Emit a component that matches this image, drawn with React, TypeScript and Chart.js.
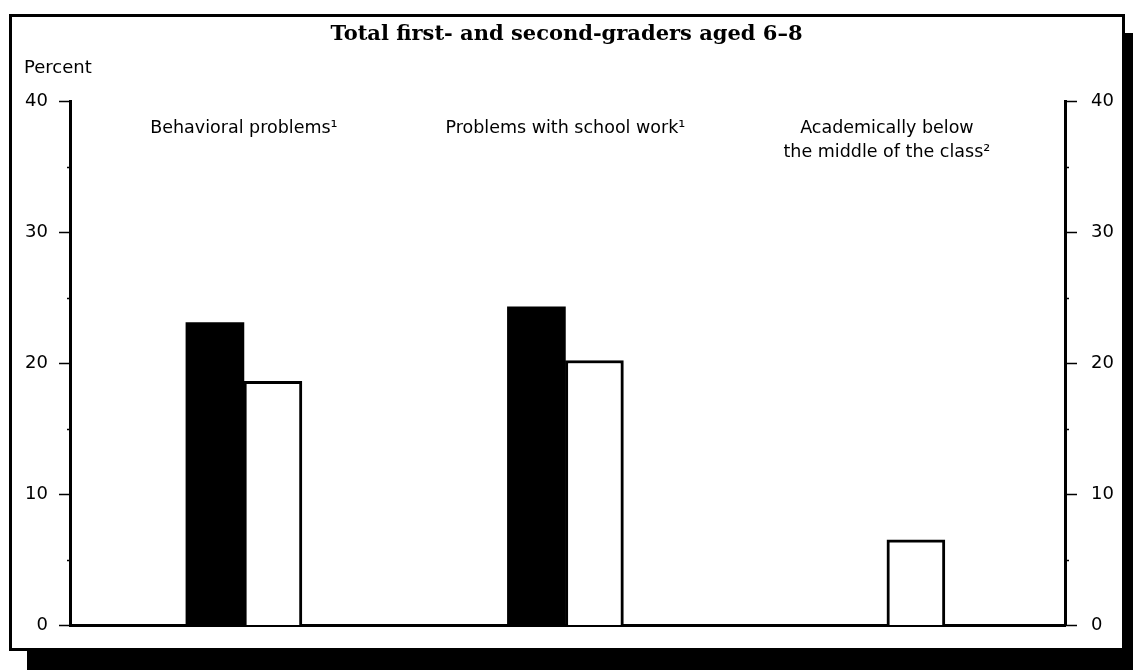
import React, { useEffect, useRef } from 'react';
import { Chart, registerables } from 'chart.js';

Chart.register(...registerables);

const TITLE = 'Total first- and second-graders aged 6–8';
const Y_AXIS_LABEL = 'Percent';
const CATEGORIES: string[][] = [
  ['Behavioral problems¹'],
  ['Problems with school work¹'],
  ['Academically below', 'the middle of the class²'],
];
const CATEGORY_POSITIONS = [0, 1, 2];
const SERIES_BLACK: (number | null)[] = [23.1, 24.3, null];
const SERIES_WHITE: (number | null)[] = [18.6, 20.2, 6.5];
const Y_TICKS_MAJOR = [0, 10, 20, 30, 40];
const Y_TICKS_MINOR = [5, 15, 25, 35];

const SANS = '"DejaVu Sans", "Liberation Sans", sans-serif';
const SERIF = '"DejaVu Serif", "Liberation Serif", serif';

const decorations = {
  id: 'decorations',
  afterDraw(chart: any) {
    const { ctx, chartArea, scales } = chart;
    const y = scales.y;
    const x = scales.x;
    ctx.save();
    ctx.strokeStyle = '#000';
    ctx.lineWidth = 1.5;
    const drawTick = (v: number, len: number) => {
      const py = Math.round(y.getPixelForValue(v)) + 0.5;
      ctx.beginPath();
      ctx.moveTo(chartArea.left - len, py);
      ctx.lineTo(chartArea.left, py);
      ctx.moveTo(chartArea.right, py);
      ctx.lineTo(chartArea.right + len + 1, py);
      ctx.stroke();
    };
    Y_TICKS_MAJOR.forEach((v) => drawTick(v, 11));
    Y_TICKS_MINOR.forEach((v) => drawTick(v, 3));

    ctx.fillStyle = '#000';
    ctx.font = `18px ${SANS}`;
    ctx.textAlign = 'left';
    ctx.textBaseline = 'alphabetic';
    ctx.fillText(Y_AXIS_LABEL, 24, 73);

    ctx.font = `17.5px ${SANS}`;
    ctx.textAlign = 'center';
    CATEGORIES.forEach((lines, i) => {
      const px = x.getPixelForValue(CATEGORY_POSITIONS[i]);
      lines.forEach((line, j) => ctx.fillText(line, px, 133 + j * 24));
    });
    ctx.restore();
  },
};

export default function App() {
  const canvasRef = useRef<HTMLCanvasElement | null>(null);

  useEffect(() => {
    const canvas = canvasRef.current;
    if (!canvas) return;
    const chart = new Chart(canvas, {
      type: 'bar',
      data: {
        datasets: [
          {
            label: 'Series 1',
            data: SERIES_BLACK.map((v, i) => ({ x: CATEGORY_POSITIONS[i], y: v })) as any,
            backgroundColor: '#000',
            borderWidth: 0,
            barThickness: 58,
            xAxisID: 'x',
            yAxisID: 'y',
          },
          {
            label: 'Series 2',
            data: SERIES_WHITE.map((v, i) => ({ x: CATEGORY_POSITIONS[i], y: v })) as any,
            backgroundColor: '#fff',
            borderColor: '#000',
            borderWidth: 3,
            barThickness: 58,
            xAxisID: 'x',
            yAxisID: 'y',
          },
        ],
      },
      options: {
        responsive: false,
        devicePixelRatio: 1,
        animation: false,
        events: [],
        layout: { padding: { left: 0, right: 0, top: 0, bottom: 47 } },
        plugins: {
          legend: { display: false },
          tooltip: { enabled: false },
          title: {
            display: true,
            text: TITLE,
            color: '#000',
            font: { family: SERIF, size: 21, weight: 'bold' },
            padding: { top: 22, bottom: 54 },
          },
        },
        scales: {
          x: {
            type: 'linear',
            position: 'bottom',
            min: -0.541,
            max: 2.554,
            offset: false,
            ticks: { display: false },
            grid: { display: false, drawTicks: false },
            border: { display: true, color: '#000', width: 3 },
          },
          y: {
            type: 'linear',
            position: 'left',
            min: 0,
            max: 40,
            ticks: {
              stepSize: 10,
              color: '#000',
              font: { family: SANS, size: 18 },
              padding: 22,
            },
            grid: { display: false, drawTicks: false },
            border: { display: true, color: '#000', width: 3 },
            afterFit: (s: any) => {
              s.width = 70;
            },
          },
          y2: {
            type: 'linear',
            position: 'right',
            min: 0,
            max: 40,
            ticks: {
              stepSize: 10,
              color: '#000',
              font: { family: SANS, size: 18 },
              padding: 26,
            },
            grid: { display: false, drawTicks: false },
            border: { display: true, color: '#000', width: 3 },
            afterFit: (s: any) => {
              s.width = 68;
            },
          },
        },
      } as any,
      plugins: [decorations],
    });
    return () => chart.destroy();
  }, []);

  return (
    <div
      style={{
        position: 'fixed',
        left: 0,
        top: 0,
        width: 1133,
        height: 672,
        background: '#fff',
        overflow: 'hidden',
      }}
    >
      <div
        style={{
          position: 'absolute',
          left: 9,
          top: 14,
          width: 1116,
          height: 637,
          boxSizing: 'border-box',
          border: '3px solid #000',
          boxShadow: '18px 19px 0 #000',
          background: '#fff',
        }}
      />
      <canvas
        ref={canvasRef}
        width={1133}
        height={672}
        style={{ position: 'absolute', left: 0, top: 0, display: 'block' }}
      />
    </div>
  );
}
